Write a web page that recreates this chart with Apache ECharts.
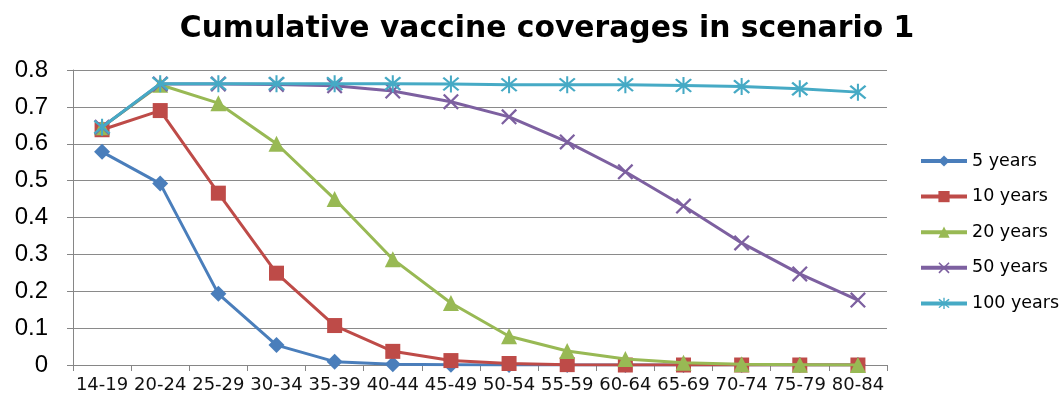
<!DOCTYPE html>
<html>
<head>
<meta charset="utf-8">
<script src="https://cdn.jsdelivr.net/npm/echarts@6/dist/echarts.min.js"></script>
<style>html,body{margin:0;padding:0;background:#fff;}#c{width:1060px;height:400px;}</style>
</head>
<body>
<div id="c"></div>
<script>
const categories = ['14-19','20-24','25-29','30-34','35-39','40-44','45-49','50-54','55-59','60-64','65-69','70-74','75-79','80-84'];
const years5   = [0.578,0.492,0.193,0.054,0.009,0.002,0.001,0,0,0,0,0,0,0];
const years10  = [0.638,0.690,0.466,0.249,0.107,0.037,0.012,0.004,0.001,0,0,0,0,0];
const years20  = [0.645,0.760,0.710,0.600,0.450,0.287,0.168,0.078,0.038,0.016,0.006,0.002,0.001,0];
const years50  = [0.645,0.762,0.762,0.761,0.757,0.743,0.714,0.673,0.605,0.524,0.431,0.331,0.247,0.176];
const years100 = [0.645,0.763,0.763,0.763,0.763,0.763,0.762,0.760,0.760,0.760,0.758,0.755,0.749,0.740];
const yTicks = {min:0, max:0.8, interval:0.1};
const seriesNames = ['5 years','10 years','20 years','50 years','100 years'];

const crossPath = 'path://M0,1 L1,0 L10,9 L9,10 Z M9,0 L10,1 L1,10 L0,9 Z';
const starPath = 'path://M0,1 L1,0 L10,9 L9,10 Z M9,0 L10,1 L1,10 L0,9 Z M4.4,-1 L5.6,-1 L5.6,11 L4.4,11 Z';

const colors = ['#4A7EBB','#BE4B48','#98B954','#7D60A0','#46AAC5'];
const symbols = ['diamond','rect','triangle',crossPath,starPath];
const sizes = [16,15,16,16,17];
const data = [years5,years10,years20,years50,years100];

const chart = echarts.init(document.getElementById('c'));
chart.setOption({
  animation:false,
  color: colors,
  title:{
    text:'Cumulative vaccine coverages in scenario 1',
    left:542, top:9, textAlign:'center',
    textStyle:{fontFamily:'DejaVu Sans', fontWeight:'bold', fontSize:29.8, color:'#000'}
  },
  legend:{
    orient:'vertical', left:919, top:152, padding:0, itemGap:17.6, itemWidth:46, itemHeight:14,
    lineStyle:{width:4},
    textStyle:{fontFamily:'DejaVu Sans', fontSize:17.5, lineHeight:18, color:'#000'},
    data: seriesNames
  },
  grid:{left:73, right:173, top:70, bottom:35, containLabel:false},
  xAxis:{
    type:'category', data:categories, boundaryGap:true,
    axisLine:{lineStyle:{color:'#868686', width:1}},
    axisTick:{show:true, length:6, lineStyle:{color:'#868686'}, alignWithLabel:false},
    axisLabel:{fontFamily:'DejaVu Sans', fontSize:18, color:'#111', margin:11, interval:0}
  },
  yAxis:{
    type:'value', min:yTicks.min, max:yTicks.max, interval:yTicks.interval,
    axisLine:{show:true, lineStyle:{color:'#868686', width:1}},
    axisTick:{show:true, length:6, lineStyle:{color:'#868686'}},
    splitLine:{show:true, lineStyle:{color:'#8a8a8a', width:1}},
    axisLabel:{fontFamily:'Liberation Sans', fontSize:24, color:'#000', margin:25}
  },
  series: data.map((d,i)=>({
    name: seriesNames[i], type:'line', data:d,
    symbol: symbols[i], symbolSize: sizes[i], showAllSymbol:true,
    lineStyle:{width:3, color:colors[i]},
    itemStyle:{color:colors[i]},
    z: 2+i
  }))
});
</script>
</body>
</html>
